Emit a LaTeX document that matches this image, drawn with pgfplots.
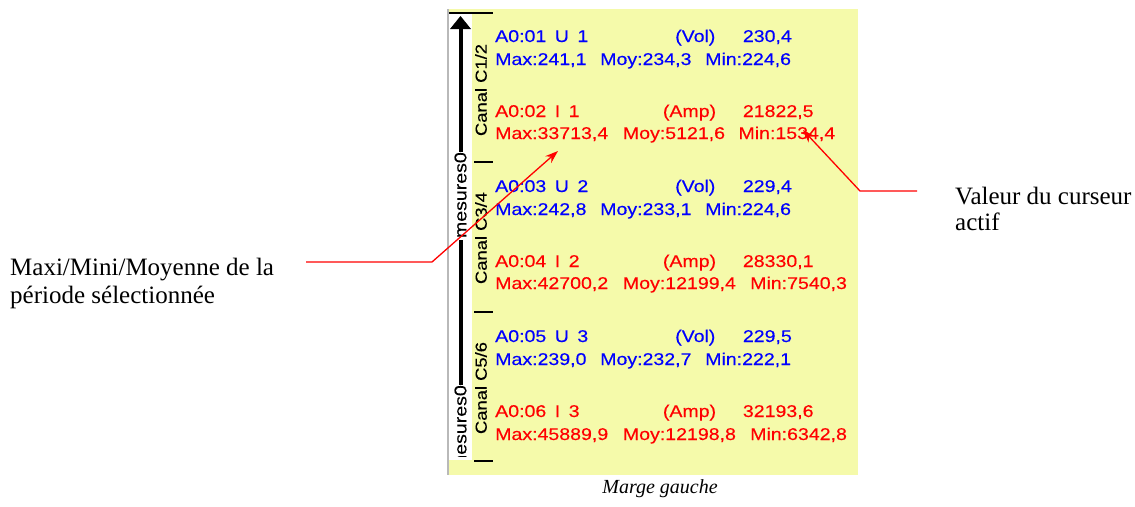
\documentclass[border=0pt]{standalone}
\usepackage{pgfplots}
\pgfplotsset{compat=1.18}
\usetikzlibrary{arrows.meta}
\usepackage{fontspec}
\setmainfont{Liberation Serif}
\newfontfamily\ui[FakeStretch=1.15, FakeBold=0.3]{Liberation Sans}
\definecolor{panel}{RGB}{245,250,170}
\definecolor{ublue}{RGB}{0,0,255}
\definecolor{ired}{RGB}{255,0,0}
\newcommand\wsp{\hspace{0.5em}}
\begin{document}
\begin{tikzpicture}[
  ui/.style={anchor=base west, inner sep=0pt, font=\ui\fontsize{17}{20}\selectfont},
  uirot/.style={anchor=east, inner sep=0pt, rotate=90, font=\ui\fontsize{17}{20}\selectfont},
  canal/.style={anchor=center, inner sep=0pt, rotate=90, font=\ui\fontsize{16}{18}\selectfont},
  ann/.style={anchor=base west, inner sep=0pt, font=\fontsize{25}{28}\selectfont},
]
\begin{axis}[scale only axis, width=1135pt, height=506pt,
  xmin=0, xmax=1135, ymin=0, ymax=506, y dir=reverse,
  hide axis, clip=false]
% panel background
\addplot[fill=panel, draw=none] coordinates {(447,9) (858,9) (858,475) (447,475)} -- cycle;
\addplot[fill=white, draw=none] coordinates {(449,14) (472,14) (472,460) (449,460)} -- cycle;
\addplot[gray!55, line width=2pt] coordinates {(448,9) (448,475)};
% axis strip
\addplot[black, line width=1.2pt] coordinates {(449,13) (493,13)};
\addplot[black, line width=1.2pt] coordinates {(474,162) (493,162)};
\addplot[black, line width=1.2pt] coordinates {(474,312) (493,312)};
\addplot[black, line width=1.2pt] coordinates {(474,461) (493,461)};
\addplot[black, line width=4pt] coordinates {(460.5,27) (460.5,152)};
\addplot[fill=black, draw=none] coordinates {(460.5,16) (450,29) (471,29)} -- cycle;
\addplot[black, line width=4pt] coordinates {(460.5,240) (460.5,385)};
\node[uirot] at (axis cs:460.5,152) {mesures0};
\node[canal] at (axis cs:481,90) {Canal C1/2};
\node[canal] at (axis cs:481,238) {Canal C3/4};
\node[canal] at (axis cs:481,388) {Canal C5/6};
\coordinate (m2) at (axis cs:460.5,385);
\coordinate (c1) at (axis cs:449,378);
\coordinate (c2) at (axis cs:472,457);
\coordinate (TL) at (axis cs:0,0);
\coordinate (BR) at (axis cs:1135,506);
% group 1
\node[ui, text=ublue] at (axis cs:495,42) {A0:01\wsp U\wsp 1};
\node[ui, text=ublue] at (axis cs:675,42) {(Vol)};
\node[ui, text=ublue] at (axis cs:742.7,42) {230,4};
\node[ui, text=ublue] at (axis cs:495,65) {Max:241,1};
\node[ui, text=ublue] at (axis cs:600,65) {Moy:234,3};
\node[ui, text=ublue] at (axis cs:705,65) {Min:224,6};
\node[ui, text=ired] at (axis cs:495,117) {A0:02\wsp I\wsp 1};
\node[ui, text=ired] at (axis cs:662.7,117) {(Amp)};
\node[ui, text=ired] at (axis cs:742.7,117) {21822,5};
\node[ui, text=ired] at (axis cs:495,139) {Max:33713,4};
\node[ui, text=ired] at (axis cs:622.7,139) {Moy:5121,6};
\node[ui, text=ired] at (axis cs:738.3,139) {Min:1534,4};
% group 2
\node[ui, text=ublue] at (axis cs:495,192) {A0:03\wsp U\wsp 2};
\node[ui, text=ublue] at (axis cs:675,192) {(Vol)};
\node[ui, text=ublue] at (axis cs:742.7,192) {229,4};
\node[ui, text=ublue] at (axis cs:495,215) {Max:242,8};
\node[ui, text=ublue] at (axis cs:600,215) {Moy:233,1};
\node[ui, text=ublue] at (axis cs:705,215) {Min:224,6};
\node[ui, text=ired] at (axis cs:495,267) {A0:04\wsp I\wsp 2};
\node[ui, text=ired] at (axis cs:662.7,267) {(Amp)};
\node[ui, text=ired] at (axis cs:742.7,267) {28330,1};
\node[ui, text=ired] at (axis cs:495,289) {Max:42700,2};
\node[ui, text=ired] at (axis cs:622.7,289) {Moy:12199,4};
\node[ui, text=ired] at (axis cs:750,289) {Min:7540,3};
% group 3
\node[ui, text=ublue] at (axis cs:495,342) {A0:05\wsp U\wsp 3};
\node[ui, text=ublue] at (axis cs:675,342) {(Vol)};
\node[ui, text=ublue] at (axis cs:742.7,342) {229,5};
\node[ui, text=ublue] at (axis cs:495,365) {Max:239,0};
\node[ui, text=ublue] at (axis cs:600,365) {Moy:232,7};
\node[ui, text=ublue] at (axis cs:705,365) {Min:222,1};
\node[ui, text=ired] at (axis cs:495,417) {A0:06\wsp I\wsp 3};
\node[ui, text=ired] at (axis cs:662.7,417) {(Amp)};
\node[ui, text=ired] at (axis cs:742.7,417) {32193,6};
\node[ui, text=ired] at (axis cs:495,440) {Max:45889,9};
\node[ui, text=ired] at (axis cs:622.7,440) {Moy:12198,8};
\node[ui, text=ired] at (axis cs:750,440) {Min:6342,8};
% annotations
\node[ann] at (axis cs:10,275) {Maxi/Mini/Moyenne de la};
\node[ann] at (axis cs:10,303) {période sélectionnée};
\node[ann] at (axis cs:955,204) {Valeur du curseur};
\node[ann] at (axis cs:955,230) {actif};
\node[anchor=base, inner sep=0pt, font=\itshape\fontsize{20}{24}\selectfont] at (axis cs:660,493) {Marge gauche};
\addplot[ired, line width=1.3pt, -{Stealth[length=13pt, width=9pt]}] coordinates {(306,262) (432,262) (558,151)};
\addplot[ired, line width=1.3pt, -{Stealth[length=13pt, width=9pt]}] coordinates {(917,191) (860,191) (803,130)};
\end{axis}
\begin{scope}
\clip (c1) rectangle (c2);
\node[uirot] at (m2) {mesures0};
\end{scope}
\pgfresetboundingbox
\path[use as bounding box] (TL) rectangle (BR);
\end{tikzpicture}
\end{document}
